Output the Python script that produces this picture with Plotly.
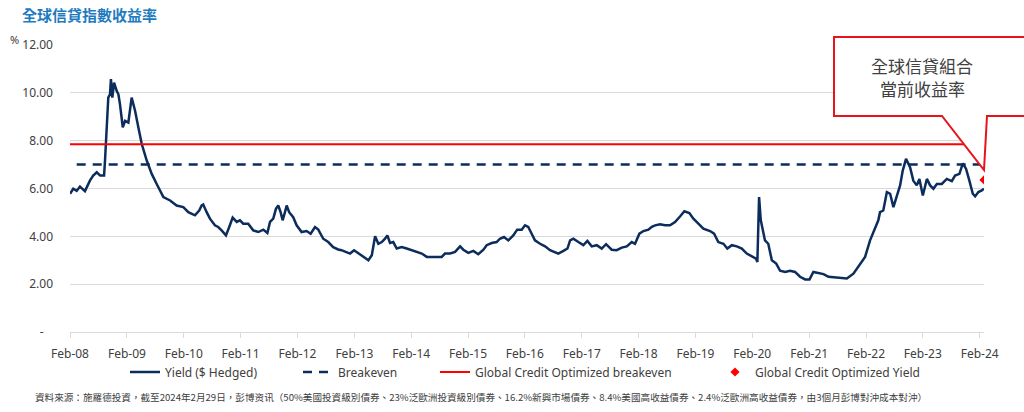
import plotly.graph_objects as go

# --- data ---
dates = [
    "2008-02-01", "2008-02-22", "2008-03-15", "2008-04-05", "2008-05-07", "2008-06-08", "2008-06-29",
    "2008-07-22", "2008-08-13", "2008-09-07", "2008-09-13", "2008-09-24", "2008-10-04", "2008-10-15",
    "2008-10-21", "2008-10-30", "2008-11-10", "2008-11-27", "2008-12-08", "2008-12-18", "2009-01-05",
    "2009-01-20", "2009-02-10", "2009-03-03", "2009-03-25", "2009-04-15", "2009-05-07", "2009-06-08",
    "2009-07-10", "2009-08-11", "2009-09-23", "2009-11-05", "2009-12-17", "2010-01-29", "2010-03-02",
    "2010-04-14", "2010-05-11", "2010-05-27", "2010-06-06", "2010-06-28", "2010-07-19", "2010-08-20",
    "2010-09-10", "2010-10-02", "2010-10-30", "2010-11-20", "2010-12-12", "2011-01-07", "2011-01-28",
    "2011-02-18", "2011-03-22", "2011-04-23", "2011-05-26", "2011-06-27", "2011-07-23", "2011-08-09",
    "2011-08-30", "2011-09-16", "2011-10-01", "2011-10-16", "2011-10-29", "2011-11-13", "2011-11-24",
    "2011-12-10", "2012-01-05", "2012-01-27", "2012-02-28", "2012-03-31", "2012-04-26", "2012-05-24",
    "2012-06-14", "2012-07-16", "2012-08-17", "2012-09-18", "2012-10-20", "2012-11-10", "2012-12-03",
    "2013-01-04", "2013-01-30", "2013-02-27", "2013-03-31", "2013-05-02", "2013-05-24", "2013-06-14",
    "2013-07-05", "2013-07-27", "2013-08-17", "2013-09-01", "2013-09-18", "2013-10-09", "2013-10-31",
    "2013-12-02", "2014-01-03", "2014-02-05", "2014-03-08", "2014-04-10", "2014-05-12", "2014-06-13",
    "2014-07-15", "2014-08-16", "2014-09-06", "2014-10-09", "2014-11-10", "2014-12-12", "2015-01-02",
    "2015-02-03", "2015-03-07", "2015-04-08", "2015-05-11", "2015-06-01", "2015-07-03", "2015-08-04",
    "2015-08-25", "2015-09-20", "2015-10-18", "2015-11-19", "2015-12-14", "2016-01-12", "2016-02-02",
    "2016-02-23", "2016-03-16", "2016-04-06", "2016-05-09", "2016-06-10", "2016-07-12", "2016-08-13",
    "2016-09-03", "2016-10-06", "2016-11-01", "2016-11-18", "2016-12-09", "2017-01-10", "2017-02-11",
    "2017-03-09", "2017-04-06", "2017-05-08", "2017-06-09", "2017-07-07", "2017-08-12", "2017-09-13",
    "2017-10-16", "2017-11-17", "2017-12-19", "2018-01-09", "2018-02-06", "2018-03-04", "2018-04-05",
    "2018-04-27", "2018-05-18", "2018-06-19", "2018-07-21", "2018-08-22", "2018-09-23", "2018-10-25",
    "2018-11-22", "2018-12-24", "2019-01-19", "2019-02-20", "2019-03-24", "2019-05-06", "2019-06-01",
    "2019-06-28", "2019-07-31", "2019-08-25", "2019-09-23", "2019-10-25", "2019-11-26", "2019-12-28",
    "2020-01-29", "2020-02-25", "2020-03-05", "2020-03-16", "2020-03-27", "2020-04-09", "2020-04-23",
    "2020-05-14", "2020-06-06", "2020-07-04", "2020-07-29", "2020-08-30", "2020-10-01", "2020-11-02",
    "2020-12-04", "2021-01-06", "2021-02-03", "2021-02-28", "2021-04-01", "2021-05-04", "2021-06-05",
    "2021-07-29", "2021-10-01", "2021-11-12", "2021-12-25", "2022-01-26", "2022-02-27", "2022-03-20",
    "2022-04-21", "2022-05-02", "2022-05-23", "2022-06-15", "2022-07-06", "2022-07-27", "2022-08-18",
    "2022-09-08", "2022-09-25", "2022-10-16", "2022-11-11", "2022-12-02", "2022-12-24", "2023-01-10",
    "2023-02-01", "2023-02-27", "2023-03-20", "2023-04-10", "2023-05-02", "2023-06-03", "2023-07-05",
    "2023-08-06", "2023-08-27", "2023-09-24", "2023-10-16", "2023-11-06", "2023-11-27", "2023-12-19",
    "2024-01-03", "2024-01-24", "2024-02-15", "2024-02-29",
]
yield_hedged = [
    5.78, 5.99, 5.90, 6.08, 5.89, 6.33, 6.54,
    6.68, 6.54, 6.54, 7.17, 8.56, 9.80, 9.94,
    10.57, 9.80, 10.43, 10.08, 9.94, 9.53, 8.56,
    8.83, 8.76, 9.80, 9.25, 8.56, 7.86, 7.17,
    6.61, 6.19, 5.64, 5.50, 5.29, 5.22, 5.01,
    4.88, 5.08, 5.29, 5.33, 5.01, 4.74, 4.46,
    4.39, 4.25, 4.04, 4.39, 4.78, 4.60, 4.67,
    4.53, 4.53, 4.25, 4.18, 4.28, 4.14, 4.60,
    4.74, 5.15, 5.29, 5.01, 4.67, 5.01, 5.29,
    5.01, 4.80, 4.46, 4.18, 4.22, 4.11, 4.39,
    4.28, 3.90, 3.76, 3.55, 3.45, 3.42, 3.35,
    3.28, 3.42, 3.28, 3.14, 3.00, 3.21, 4.00,
    3.69, 3.76, 3.90, 4.04, 3.72, 3.76, 3.49,
    3.55, 3.49, 3.42, 3.35, 3.28, 3.14, 3.14,
    3.17, 3.14, 3.28, 3.28, 3.35, 3.58, 3.44,
    3.31, 3.39, 3.25, 3.44, 3.63, 3.72, 3.76,
    3.90, 3.97, 3.83, 4.04, 4.28, 4.28, 4.46,
    4.39, 4.11, 3.83, 3.69, 3.58, 3.42, 3.35,
    3.28, 3.39, 3.49, 3.83, 3.90, 3.76, 3.63,
    3.81, 3.58, 3.63, 3.49, 3.67, 3.44, 3.42,
    3.53, 3.58, 3.76, 3.69, 4.11, 4.22, 4.28,
    4.40, 4.46, 4.50, 4.46, 4.46, 4.60, 4.83,
    5.05, 4.97, 4.74, 4.53, 4.32, 4.22, 4.11,
    3.76, 3.69, 3.49, 3.63, 3.58, 3.49, 3.28,
    3.17, 3.07, 2.93, 5.64, 4.67, 4.32, 3.83,
    3.69, 3.00, 2.86, 2.56, 2.51, 2.56, 2.51,
    2.31, 2.20, 2.20, 2.51, 2.47, 2.42, 2.31,
    2.28, 2.24, 2.44, 2.86, 3.14, 3.83, 4.18,
    4.67, 5.01, 5.08, 5.85, 5.78, 5.22, 5.64,
    6.13, 6.75, 7.24, 6.89, 6.33, 6.13, 6.40,
    5.71, 6.40, 6.13, 5.99, 6.19, 6.19, 6.40,
    6.31, 6.54, 6.61, 7.05, 6.82, 6.33, 5.78,
    5.67, 5.85, 5.92, 5.99,
]

breakeven_dates = ["2008-03-15", "2024-02-29"]
breakeven = [7.0, 7.0]
gco_breakeven_dates = ["2008-02-01", "2024-02-29"]
gco_breakeven = [7.85, 7.85]
gco_yield_dates = ["2024-02-29"]
gco_yield = [6.36]

y_ticks = [0, 2, 4, 6, 8, 10, 12]
y_ticktext = ["-\u00a0\u00a0\u00a0", "2.00", "4.00", "6.00", "8.00", "10.00", "12.00"]
x_ticks = [f"{y}-02-01" for y in range(2008, 2025)]

# --- layout geometry (pixels) ---
W, H = 1024, 412
L, R, T, B = 70, 40, 45, 80


def px(x):
    return (x - L) / (W - L - R)


def py(y):
    return (H - B - y) / (H - T - B)


NAVY = "#0c2c5c"
RED = "#ff0000"
GREY = "#404040"
FONT = "Noto Sans"
CJK = "Noto Sans CJK TC"

fig = go.Figure()

fig.add_trace(go.Scatter(
    x=dates, y=yield_hedged, mode="lines", name="Yield ($ Hedged)",
    line=dict(color=NAVY, width=2.5), legend="legend", showlegend=True
))
fig.add_trace(go.Scatter(
    x=breakeven_dates, y=breakeven, mode="lines", name="Breakeven",
    line=dict(color=NAVY, width=2.5, dash="9px,7px"), legend="legend2", showlegend=True
))
fig.add_trace(go.Scatter(
    x=gco_breakeven_dates, y=gco_breakeven, mode="lines", name="Global Credit Optimized breakeven",
    line=dict(color=RED, width=2.2), legend="legend3", showlegend=True
))
fig.add_trace(go.Scatter(
    x=gco_yield_dates, y=gco_yield, mode="markers", name="Global Credit Optimized Yield",
    marker=dict(color=RED, symbol="diamond", size=7), legend="legend4", showlegend=True
))

leg = dict(orientation="h", yanchor="middle", y=py(372), xanchor="left",
           font=dict(family=FONT, size=12, color=GREY), bgcolor="rgba(0,0,0,0)")

# callout box with pointer to the latest yield
callout = [(834, 37), (1060, 37), (1060, 116), (987, 116), (984, 170), (942, 116), (834, 116)]
path = "M " + " L ".join(f"{px(x):.5f},{py(y):.5f}" for x, y in callout) + " Z"

fig.update_layout(
    width=W, height=H,
    margin=dict(l=L, r=R, t=T, b=B),
    plot_bgcolor="white", paper_bgcolor="white",
    font=dict(family=FONT, size=12, color=GREY),
    showlegend=True,
    xaxis=dict(
        type="date", range=["2008-02-01", "2024-02-29"],
        tickvals=x_ticks, tickformat="%b-%y",
        showgrid=False, showline=True, linecolor="#d9d9d9", linewidth=1,
        ticks="outside", ticklen=5, tickcolor="#d9d9d9",
        tickfont=dict(family=FONT, size=12, color=GREY), ticklabelstandoff=6,
    ),
    yaxis=dict(
        range=[0, 12], tickvals=y_ticks, ticktext=y_ticktext,
        showgrid=True, gridcolor="#d9d9d9", gridwidth=1, zeroline=False,
        tickfont=dict(family=FONT, size=12, color=GREY), ticklabelstandoff=16,
    ),
    legend=dict(leg, x=px(125)),
    legend2=dict(leg, x=px(298)),
    legend3=dict(leg, x=px(435)),
    legend4=dict(leg, x=px(715)),
    shapes=[dict(type="path", xref="paper", yref="paper", path=path,
                 line=dict(color="#e8141c", width=2), fillcolor="white", layer="above")],
    annotations=[
        dict(text="<b>全球信貸指數收益率</b>", xref="paper", yref="paper",
             x=px(20), y=py(15), xanchor="left", yanchor="middle", showarrow=False,
             font=dict(family=CJK, size=15, color="#1f7bc0")),
        dict(text="%", xref="paper", yref="paper", x=px(8), y=py(40),
             xanchor="left", yanchor="middle", showarrow=False,
             font=dict(family=FONT, size=11, color=GREY)),
        dict(text="全球信貸組合", xref="paper", yref="paper",
             x=px(922), y=py(65), xanchor="center", yanchor="middle", showarrow=False,
             font=dict(family=CJK, size=17, color=GREY)),
        dict(text="當前收益率", xref="paper", yref="paper",
             x=px(922), y=py(88), xanchor="center", yanchor="middle", showarrow=False,
             font=dict(family=CJK, size=17, color=GREY)),
        dict(text="資料來源：施羅德投資，截至2024年2月29日，彭博资讯（50%美國投資級別債券、23%泛歐洲投資級別債券、"
                  "16.2%新興市場債券、8.4%美國高收益債券、2.4%泛歐洲高收益債券，由3個月彭博對沖成本對沖）",
             xref="paper", yref="paper", x=px(33), y=py(397), xanchor="left", yanchor="middle",
             showarrow=False, font=dict(family=CJK, size=9.6, color=GREY)),
    ],
)

fig.write_html("out.html", config={"displayModeBar": False},
               post_script="document.body.style.margin='0';")
